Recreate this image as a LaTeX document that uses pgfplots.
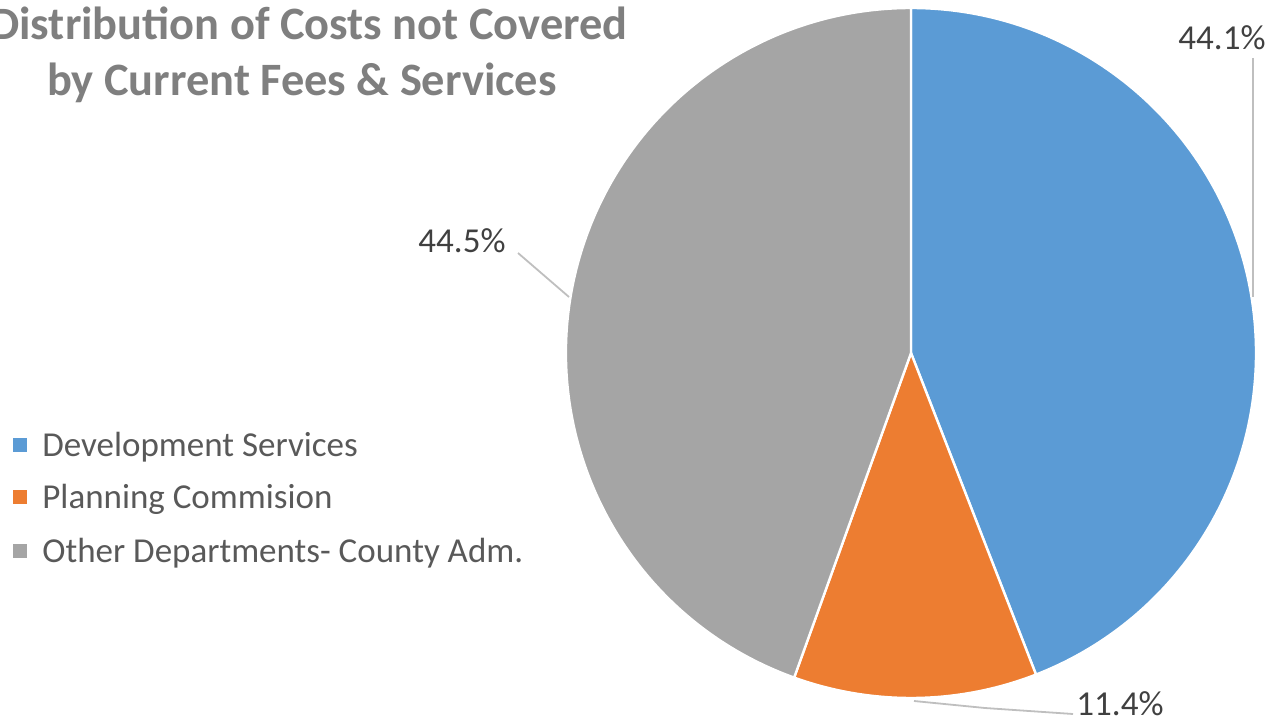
\documentclass[border=0pt]{standalone}
\usepackage{pgfplots}
\usepackage{pgfplotstable}
\pgfplotsset{compat=1.18}
\usepackage{fontspec}
\setmainfont{Carlito}
\definecolor{cBlue}{HTML}{5B9BD5}
\definecolor{cOrange}{HTML}{ED7D31}
\definecolor{cGray}{HTML}{A5A5A5}
\definecolor{titleGray}{HTML}{7F7F7F}
\definecolor{legGray}{HTML}{595959}
\definecolor{labGray}{HTML}{404040}
\definecolor{leader}{HTML}{BFBFBF}

\pgfplotstableread{
label share
Development 44.1
Planning 11.4
Other 44.5
}\piedata

\begin{document}%
\begin{tikzpicture}
\pgfplotstablegetelem{0}{share}\of\piedata \let\vA\pgfplotsretval
\pgfplotstablegetelem{1}{share}\of\piedata \let\vB\pgfplotsretval
\pgfplotstablegetelem{2}{share}\of\piedata \let\vC\pgfplotsretval
\pgfmathsetmacro\sA{90}
\pgfmathsetmacro\dA{-3.6*\vA}
\pgfmathsetmacro\sB{\sA+\dA}
\pgfmathsetmacro\dB{-3.6*\vB}
\pgfmathsetmacro\sC{\sB+\dB}
\pgfmathsetmacro\dC{-3.6*\vC}
\useasboundingbox (0,0) rectangle (636pt,360.5pt);
\clip (0,0) rectangle (636pt,360.5pt);
\begin{axis}[
  at={(0,0)}, anchor=south west,
  scale only axis, width=636pt, height=360.5pt,
  xmin=0, xmax=1272, ymin=0, ymax=721, y dir=reverse,
  hide axis, clip=false,
]
% pie slices (center 911,353 px; radius 345 px = 172.5pt)
\fill[cBlue, draw=white, line width=1.2pt, line join=round]
  (axis cs:911,353) -- ++(\sA:172.5pt) arc[start angle=\sA, delta angle=\dA, radius=172.5pt] -- cycle;
\fill[cOrange, draw=white, line width=1.2pt, line join=round]
  (axis cs:911,353) -- ++(\sB:172.5pt) arc[start angle=\sB, delta angle=\dB, radius=172.5pt] -- cycle;
\fill[cGray, draw=white, line width=1.2pt, line join=round]
  (axis cs:911,353) -- ++(\sC:172.5pt) arc[start angle=\sC, delta angle=\dC, radius=172.5pt] -- cycle;

% leader lines
\draw[leader, line width=0.9pt] (axis cs:1253,58) -- (axis cs:1253,297);
\draw[leader, line width=0.9pt] (axis cs:1073,714) -- (axis cs:985,708) -- (axis cs:914,701);
\draw[leader, line width=0.9pt] (axis cs:518,253) -- (axis cs:569,297);

% data labels
\node[anchor=base, text=labGray, font=\fontsize{17.5}{20}\selectfont, inner sep=0pt] at (axis cs:1222,50) {\vA\%};
\node[anchor=base, text=labGray, font=\fontsize{17.5}{20}\selectfont, inner sep=0pt] at (axis cs:1120,715) {\vB\%};
\node[anchor=base, text=labGray, font=\fontsize{17.5}{20}\selectfont, inner sep=0pt] at (axis cs:462,253) {\vC\%};

% title
\node[anchor=base, text=titleGray, font=\bfseries\fontsize{23.2}{27}\selectfont, inner sep=0pt] at (axis cs:309,40) {Distribution of Costs not Covered};
\node[anchor=base, text=titleGray, font=\bfseries\fontsize{23.2}{27}\selectfont, inner sep=0pt] at (axis cs:302,96) {by Current Fees \& Services};

% legend
\fill[cBlue] (axis cs:13,438) rectangle (axis cs:27,452);
\fill[cOrange] (axis cs:13,490) rectangle (axis cs:27,504);
\fill[cGray] (axis cs:13,544) rectangle (axis cs:27,558);
\node[anchor=base west, text=legGray, font=\fontsize{17.5}{20}\selectfont, inner sep=0pt] at (axis cs:42,456) {Development Services};
\node[anchor=base west, text=legGray, font=\fontsize{17.5}{20}\selectfont, inner sep=0pt] at (axis cs:42,508) {Planning Commision};
\node[anchor=base west, text=legGray, font=\fontsize{17.5}{20}\selectfont, inner sep=0pt] at (axis cs:42,562) {Other Departments- County Adm.};
\end{axis}
\end{tikzpicture}%
\end{document}
